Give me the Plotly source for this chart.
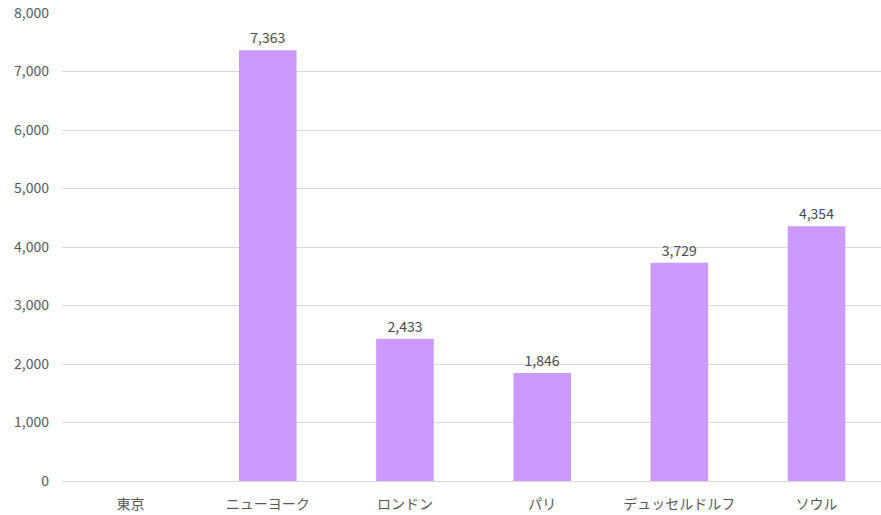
import plotly.graph_objects as go

categories = ["東京", "ニューヨーク", "ロンドン", "パリ", "デュッセルドルフ", "ソウル"]
values = [None, 7363, 2433, 1846, 3729, 4354]
y_ticks = [0, 1000, 2000, 3000, 4000, 5000, 6000, 7000, 8000]

font_family = "Noto Sans CJK JP, Noto Sans, sans-serif"

fig = go.Figure(
    go.Bar(
        x=categories,
        y=values,
        marker=dict(color="#cc99ff", line=dict(width=0)),
        texttemplate="%{y:,}",
        textposition="outside",
        textfont=dict(size=14, color="#4a4a4a", family=font_family),
        cliponaxis=False,
        width=0.42,
    )
)

fig.update_layout(
    width=881,
    height=515,
    margin=dict(l=62, r=0, t=13, b=34),
    paper_bgcolor="white",
    plot_bgcolor="white",
    showlegend=False,
    font=dict(family=font_family, size=14, color="#595959"),
    xaxis=dict(
        range=[-0.5, 5.47],
        showgrid=False,
        showline=False,
        ticks="",
        tickfont=dict(size=14, color="#595959"),
        ticklabelstandoff=13,
    ),
    yaxis=dict(
        range=[0, 8000],
        tickvals=y_ticks,
        tickformat=",",
        showgrid=True,
        gridcolor="#d9d9d9",
        gridwidth=1,
        zeroline=True,
        zerolinecolor="#d9d9d9",
        zerolinewidth=1,
        showline=False,
        ticks="",
        tickfont=dict(size=14, color="#595959"),
        ticklabelstandoff=12,
    ),
)

fig.write_html(
    "out.html",
    config={"displayModeBar": False},
    post_script="document.body.style.margin='0';document.body.style.overflow='hidden';",
)
